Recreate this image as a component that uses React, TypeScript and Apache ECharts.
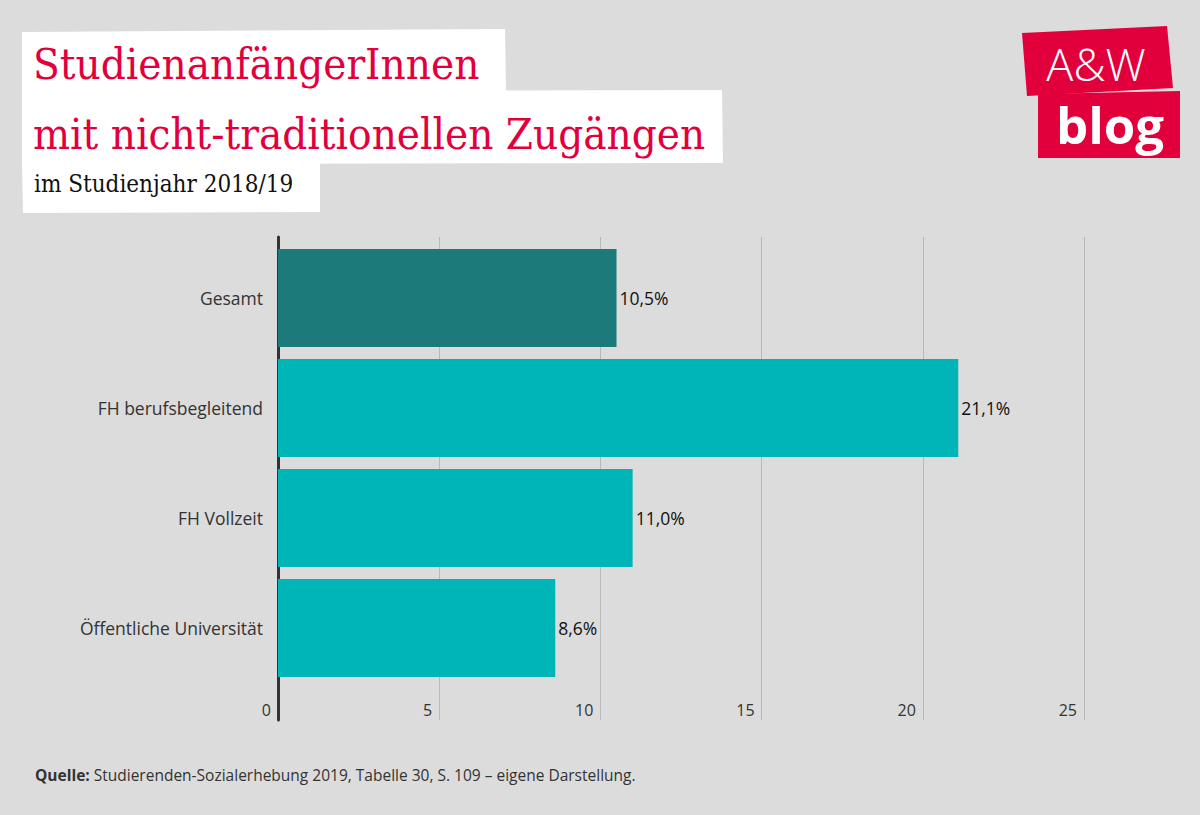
import React, { useEffect, useRef } from "react";
import * as echarts from "echarts";

const categories = ["Gesamt", "FH berufsbegleitend", "FH Vollzeit", "Öffentliche Universität"];
const values = [10.5, 21.1, 11.0, 8.6];
const barColors = ["#1c7b7a", "#00b5b8", "#00b5b8", "#00b5b8"];
const xTicks = [0, 5, 10, 15, 20, 25];

const titleLine1 = "StudienanfängerInnen";
const titleLine2 = "mit nicht-traditionellen Zugängen";
const subtitle = "im Studienjahr 2018/19";
const sourceBold = "Quelle:";
const sourceText = " Studierenden-Sozialerhebung 2019, Tabelle 30, S. 109 – eigene Darstellung.";

export default function App() {
  const ref = useRef<HTMLDivElement>(null);
  useEffect(() => {
    if (!ref.current) return;
    const chart = echarts.init(ref.current, null, { renderer: "svg" });
    const red = "#e2003c";
    const titleFont = "43.5px 'DejaVu Serif Condensed', 'DejaVu Serif', serif";
    const option: any = {
      animation: false,
      backgroundColor: "#dcdcdc",
      grid: [
        { left: 278, right: 116, top: 243, bottom: 132 },
        { left: 278, right: 116, top: 237, bottom: 95 },
      ],
      xAxis: [
        {
          gridIndex: 0,
          type: "value",
          min: xTicks[0],
          max: xTicks[xTicks.length - 1],
          interval: 5,
          show: false,
        },
        {
          gridIndex: 1,
          type: "value",
          min: xTicks[0],
          max: xTicks[xTicks.length - 1],
          interval: 5,
          axisLine: { show: false },
          axisTick: { show: false },
          splitLine: { show: true, lineStyle: { color: "#b8b8b8", width: 1 } },
          axisLabel: {
            inside: true,
            margin: 2,
            align: "right",
            padding: [0, 7, 0, 0],
            color: "#333",
            fontSize: 16,
            fontFamily: "Open Sans",
          },
        },
      ],
      yAxis: [
        {
          gridIndex: 0,
          type: "category",
          data: categories,
          inverse: true,
          axisLine: { show: false },
          axisTick: { show: false },
          splitLine: { show: false },
          axisLabel: {
            margin: 15,
            color: "#333",
            fontSize: 17.5,
            fontFamily: "Open Sans",
          },
        },
        {
          gridIndex: 1,
          type: "value",
          min: 0,
          max: 1,
          axisLine: { show: true, lineStyle: { color: "#333", width: 3 } },
          axisTick: { show: false },
          axisLabel: { show: false },
          splitLine: { show: false },
        },
      ],
      series: [
        {
          type: "bar",
          xAxisIndex: 0,
          yAxisIndex: 0,
          barCategoryGap: "11%",
          data: values.map((v, i) => ({ value: v, itemStyle: { color: barColors[i] } })),
          label: {
            show: true,
            position: "right",
            distance: 3,
            color: "#111",
            fontSize: 17.5,
            fontFamily: "Open Sans",
            formatter: (p: any) => p.value.toFixed(1).replace(".", ",") + "%",
          },
        },
      ],
      graphic: [
        { type: "polygon", shape: { points: [[22, 32], [505, 29], [506, 92], [22, 93]] }, style: { fill: "#fff" } },
        { type: "polygon", shape: { points: [[22, 92], [722, 90], [723, 163], [22, 164]] }, style: { fill: "#fff" } },
        { type: "polygon", shape: { points: [[22, 163], [320, 163], [320, 212], [23, 213]] }, style: { fill: "#fff" } },
        {
          type: "text",
          left: 33,
          top: 42,
          style: { text: titleLine1, fill: red, font: titleFont },
        },
        {
          type: "text",
          left: 33,
          top: 112,
          style: { text: titleLine2, fill: red, font: titleFont },
        },
        {
          type: "text",
          left: 34,
          top: 172,
          style: { text: subtitle, fill: "#111", font: "24px 'DejaVu Serif Condensed', 'DejaVu Serif', serif" },
        },
        {
          type: "polygon",
          shape: { points: [[1022, 33], [1167, 26], [1173, 88], [1027, 96]] },
          style: { fill: red },
        },
        {
          type: "polygon",
          shape: { points: [[1038, 94], [1180, 91], [1180, 158], [1038, 158]] },
          style: { fill: red },
        },
        {
          type: "text",
          x: 1096,
          y: 63,
          style: {
            text: "A&W",
            fill: "#fff",
            font: "300 45px 'Open Sans', sans-serif",
            lineHeight: 44,
            align: "center",
            verticalAlign: "middle",
          },
        },
        {
          type: "text",
          x: 1110,
          y: 124,
          style: {
            text: "blog",
            fill: "#fff",
            font: "bold 51px 'Open Sans', sans-serif",
            lineHeight: 50,
            align: "center",
            verticalAlign: "middle",
          },
        },
        {
          type: "text",
          left: 35,
          top: 767,
          style: {
            text: "{b|" + sourceBold + "}{n|" + sourceText + "}",
            rich: {
              b: { fontWeight: "bold", fontSize: 15.5, fill: "#333", fontFamily: "Open Sans" },
              n: { fontSize: 15.5, fill: "#333", fontFamily: "Open Sans" },
            },
          },
        },
      ],
    };
    chart.setOption(option);
    return () => chart.dispose();
  }, []);
  return <div ref={ref} style={{ position: "fixed", left: 0, top: 0, width: 1200, height: 815 }} />;
}
